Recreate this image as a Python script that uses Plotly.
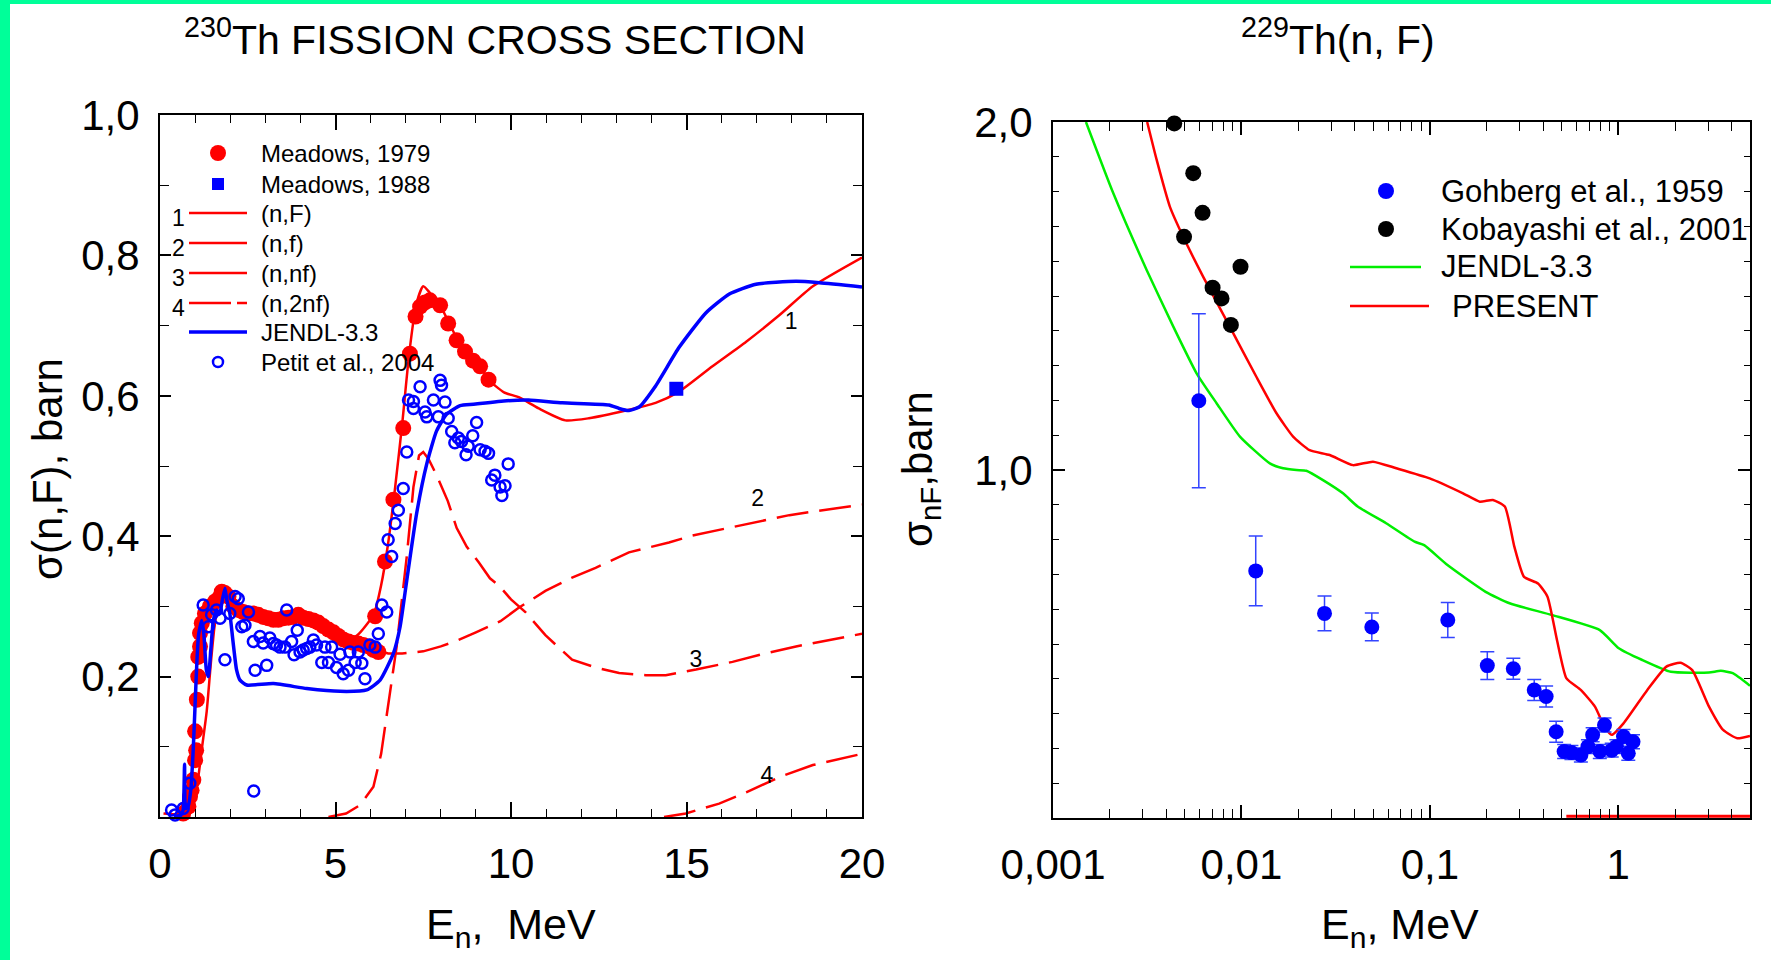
import plotly.graph_objects as go

W, H = 1771, 960
FONT = "Arial, Liberation Sans, Helvetica, sans-serif"


def px(x):
    return x / W


def py(y):
    return 1 - y / H


# ---------------- Left panel: 230Th fission cross section ----------------
meadows79_E = [0.66, 0.81, 0.855, 0.90, 0.95, 1.0, 1.03, 1.0, 1.05, 1.09, 1.09, 1.14, 1.14, 1.19,
               1.28, 1.42, 1.57, 1.71, 1.76, 1.85, 1.95, 2.09, 2.23, 2.37, 2.51, 2.66, 2.80, 2.94,
               3.09, 3.23, 3.37, 3.51, 3.66, 3.80, 3.94, 4.08, 4.23, 4.37, 4.51, 4.65, 4.80, 4.94,
               5.08, 5.22, 5.37, 5.51, 5.65, 5.79, 5.94, 6.08, 6.22, 6.13, 6.41, 6.65, 6.93, 7.12,
               7.28, 7.41, 7.55, 7.69, 7.98, 8.21, 8.45, 8.69, 8.92, 9.12, 9.36]
meadows79_s = [0.005, 0.015, 0.029, 0.038, 0.053, 0.081, 0.095, 0.122, 0.167, 0.200, 0.228, 0.243,
               0.262, 0.276, 0.290, 0.300, 0.307, 0.314, 0.321, 0.319, 0.314, 0.300, 0.295, 0.292,
               0.290, 0.290, 0.288, 0.285, 0.283, 0.281, 0.281, 0.283, 0.284, 0.285, 0.288, 0.284,
               0.282, 0.280, 0.277, 0.272, 0.267, 0.263, 0.258, 0.253, 0.250, 0.248, 0.247, 0.245,
               0.243, 0.238, 0.235, 0.286, 0.364, 0.452, 0.554, 0.660, 0.713, 0.727, 0.733, 0.736,
               0.729, 0.703, 0.679, 0.663, 0.650, 0.642, 0.623]

meadows88_E = [14.71]
meadows88_s = [0.610]

petit_E = [0.33, 0.43, 0.66, 0.85, 1.23, 1.38, 1.47, 1.61, 1.71, 1.85, 1.99, 2.14, 2.23, 2.33,
           2.42, 2.52, 2.66, 2.67, 2.71, 2.85, 2.94, 3.04, 3.13, 3.23, 3.32, 3.42, 3.56, 3.61,
           3.75, 3.82, 3.91, 3.99, 4.08, 4.18, 4.27, 4.37, 4.46, 4.61, 4.70, 4.80, 4.89, 5.03,
           5.13, 5.22, 5.37, 5.41, 5.56, 5.65, 5.75, 5.84, 5.98, 6.13, 6.22, 6.32, 6.46, 6.50,
           6.60, 6.70, 6.79, 6.93, 7.03, 7.08, 7.22, 7.22, 7.41, 7.55, 7.60, 7.79, 7.93, 7.98,
           8.02, 8.12, 8.21, 8.31, 8.40, 8.50, 8.59, 8.72, 8.78, 8.91, 9.02, 9.12, 9.26, 9.36,
           9.45, 9.54, 9.69, 9.74, 9.83, 9.92]
petit_s = [0.010, 0.003, 0.012, 0.048, 0.302, 0.271, 0.288, 0.295, 0.283, 0.224, 0.290, 0.314,
           0.311, 0.271, 0.273, 0.292, 0.250, 0.037, 0.209, 0.257, 0.248, 0.216, 0.255, 0.247,
           0.245, 0.242, 0.242, 0.295, 0.250, 0.231, 0.266, 0.235, 0.238, 0.240, 0.242, 0.252,
           0.245, 0.220, 0.242, 0.220, 0.242, 0.213, 0.232, 0.204, 0.209, 0.235, 0.220, 0.235,
           0.219, 0.197, 0.245, 0.242, 0.261, 0.302, 0.292, 0.395, 0.371, 0.418, 0.437, 0.468,
           0.520, 0.594, 0.592, 0.582, 0.613, 0.577, 0.570, 0.594, 0.570, 0.622, 0.615, 0.591,
           0.568, 0.549, 0.533, 0.540, 0.535, 0.516, 0.528, 0.543, 0.562, 0.523, 0.521, 0.518,
           0.480, 0.487, 0.470, 0.458, 0.472, 0.503]

nF_E = [0.1, 0.5, 0.8, 1.0, 1.1, 1.2, 1.33, 1.45, 1.55, 1.65, 1.8, 1.9, 2.1, 2.5, 3.0, 3.5, 4.0,
        4.5, 5.0, 5.3, 5.6, 5.9, 6.1, 6.3, 6.5, 6.7, 6.9, 7.1, 7.3, 7.5, 7.7, 8.0, 8.3, 8.6, 9.12,
        9.36, 9.8, 10.22, 10.79, 11.55, 12.22, 13.27, 14.12, 14.79, 15.74, 16.70, 17.65, 18.6, 20.0]
nF_s = [0.005, 0.004, 0.010, 0.030, 0.060, 0.100, 0.150, 0.220, 0.270, 0.300, 0.323, 0.318, 0.302,
        0.292, 0.285, 0.282, 0.282, 0.276, 0.262, 0.252, 0.258, 0.275, 0.290, 0.330, 0.390, 0.470,
        0.560, 0.660, 0.730, 0.756, 0.746, 0.727, 0.697, 0.670, 0.642, 0.623, 0.605, 0.598, 0.582,
        0.565, 0.568, 0.579, 0.590, 0.606, 0.642, 0.677, 0.715, 0.756, 0.797]

nf_E = [5.0, 5.5, 6.0, 6.5, 6.9, 7.5, 8.0, 8.5, 9.0, 9.7, 10.22, 10.98, 11.74, 12.41, 13.36, 14.5,
        15.17, 16.22, 17.27, 17.93, 18.6, 20.0]
nf_s = [0.262, 0.250, 0.240, 0.233, 0.233, 0.236, 0.243, 0.252, 0.263, 0.279, 0.298, 0.322, 0.341,
        0.355, 0.377, 0.391, 0.401, 0.412, 0.423, 0.430, 0.435, 0.445]

nnf_E = [4.8, 5.3, 5.7, 6.08, 6.3, 6.46, 6.74, 7.03, 7.22, 7.38, 7.5, 7.65, 7.88, 8.2, 8.45, 8.74,
         9.08, 9.4, 9.65, 10.0, 10.41, 10.98, 11.74, 12.41, 13.08, 13.84, 14.41, 15.27, 16.31,
         17.17, 18.12, 20.0]
nnf_s = [0.0, 0.005, 0.017, 0.043, 0.090, 0.148, 0.242, 0.371, 0.470, 0.515, 0.520, 0.510, 0.487,
         0.450, 0.412, 0.385, 0.363, 0.340, 0.330, 0.310, 0.292, 0.259, 0.224, 0.213, 0.205, 0.202,
         0.202, 0.210, 0.221, 0.232, 0.243, 0.261]

n2nf_E = [14.36, 14.98, 15.93, 16.70, 17.65, 18.6, 20.0]
n2nf_s = [0.0, 0.005, 0.019, 0.035, 0.057, 0.074, 0.090]

jendl230_E = [0.4, 0.6, 0.66, 0.70, 0.73, 0.8, 0.88, 0.95, 1.0, 1.05, 1.1, 1.19, 1.25, 1.32, 1.38,
              1.45, 1.52, 1.61, 1.7, 1.78, 1.85, 1.9, 1.99, 2.08, 2.18, 2.28, 2.47, 3.23, 4.18,
              5.13, 5.89, 6.27, 6.65, 6.84, 7.03, 7.31, 7.60, 7.88, 8.17, 8.55, 8.93, 9.88, 10.5,
              11.46, 12.79, 13.08, 13.36, 13.65, 14.12, 14.79, 15.55, 16.22, 16.98, 18.12, 18.79,
              20.0]
jendl230_s = [0.0, 0.003, 0.010, 0.075, 0.012, 0.015, 0.040, 0.100, 0.160, 0.220, 0.260, 0.280,
              0.260, 0.210, 0.200, 0.240, 0.280, 0.295, 0.290, 0.310, 0.326, 0.310, 0.290, 0.250,
              0.210, 0.195, 0.188, 0.190, 0.183, 0.179, 0.181, 0.195, 0.233, 0.271, 0.337, 0.432,
              0.503, 0.550, 0.574, 0.586, 0.588, 0.593, 0.594, 0.590, 0.587, 0.582, 0.579, 0.584,
              0.614, 0.669, 0.718, 0.745, 0.759, 0.763, 0.761, 0.755]

curve_labels = ["1", "2", "3", "4"]
curve_label_E = [17.98, 17.03, 15.27, 17.29]
curve_label_s = [0.703, 0.451, 0.222, 0.056]

left_xticks = [0, 5, 10, 15, 20]
left_xticktext = ["0", "5", "10", "15", "20"]
left_yticks = [0.2, 0.4, 0.6, 0.8, 1.0]
left_yticktext = ["0,2", "0,4", "0,6", "0,8", "1,0"]

# ---------------- Right panel: 229Th(n,F) ----------------
gohberg_E = [0.00594, 0.01191, 0.0276, 0.0492, 0.1245, 0.2018, 0.2773, 0.358, 0.414, 0.468,
             0.516, 0.564, 0.633, 0.690, 0.731, 0.798, 0.845, 0.923, 0.977, 1.066, 1.13, 1.197]
gohberg_s = [1.199, 0.710, 0.588, 0.549, 0.569, 0.438, 0.429, 0.368, 0.349, 0.248,
             0.191, 0.188, 0.181, 0.205, 0.239, 0.191, 0.267, 0.195, 0.205, 0.234, 0.186, 0.219]
gohberg_err = [0.25, 0.10, 0.05, 0.04, 0.05, 0.04, 0.03, 0.03, 0.03, 0.03,
               0.02, 0.02, 0.02, 0.02, 0.02, 0.02, 0.02, 0.02, 0.02, 0.02, 0.02, 0.02]

kobayashi_E = [0.00440, 0.00555, 0.00622, 0.00496, 0.00989, 0.00703, 0.00784, 0.00879]
kobayashi_s = [1.996, 1.853, 1.739, 1.670, 1.584, 1.524, 1.493, 1.417]

jendl229_E = [0.001496, 0.00209, 0.00314, 0.00435, 0.00578, 0.00738, 0.00982, 0.01415, 0.01665,
              0.0196, 0.0221, 0.0271, 0.0346, 0.0414, 0.0586, 0.083, 0.0933, 0.124, 0.1977,
              0.265, 0.447, 0.798, 1.006, 1.34, 1.90, 3.03, 3.50, 4.05, 5.0]
jendl229_s = [2.0, 1.795, 1.575, 1.412, 1.278, 1.192, 1.096, 1.019, 1.005, 1.0, 0.998, 0.971,
              0.933, 0.895, 0.847, 0.794, 0.784, 0.727, 0.650, 0.617, 0.583, 0.540, 0.488, 0.454,
              0.420, 0.418, 0.423, 0.416, 0.380]

present_E = [0.00316, 0.00355, 0.00417, 0.00491, 0.00627, 0.00867, 0.0120, 0.01535, 0.0188,
             0.0230, 0.0294, 0.0391, 0.0499, 0.0664, 0.0998, 0.150, 0.184, 0.216, 0.250, 0.281,
             0.316, 0.375, 0.421, 0.473, 0.531, 0.632, 0.752, 0.845, 0.923, 1.066, 1.426, 1.80,
             2.14, 2.47, 3.03, 3.60, 4.28, 5.0]
present_s = [2.0, 1.891, 1.757, 1.670, 1.555, 1.412, 1.268, 1.163, 1.096, 1.057, 1.043, 1.014,
             1.024, 1.005, 0.976, 0.933, 0.909, 0.914, 0.895, 0.779, 0.693, 0.674, 0.636, 0.511,
             0.401, 0.368, 0.320, 0.262, 0.239, 0.272, 0.368, 0.435, 0.446, 0.425, 0.320, 0.253,
             0.229, 0.236]
present_base_E = [0.53, 5.0]
present_base_s = [0.005, 0.005]

right_xticks = [0.001, 0.01, 0.1, 1]
right_xticktext = ["0,001", "0,01", "0,1", "1"]
right_xminor = [m * 10 ** d for d in (-3, -2, -1, 0) for m in range(2, 10) if m * 10 ** d <= 5]
right_yticks = [1.0, 2.0]
right_yticktext = ["1,0", "2,0"]

RED = "#ff0000"
BLUE = "#0000ff"
GREEN = "#00ee00"

fig = go.Figure()

# left traces
fig.add_trace(go.Scatter(x=nf_E, y=nf_s, mode="lines", name="(n,f)",
                         line=dict(color=RED, width=2.5, dash="32px,11px"), xaxis="x", yaxis="y"))
fig.add_trace(go.Scatter(x=nnf_E, y=nnf_s, mode="lines", name="(n,nf)",
                         line=dict(color=RED, width=2.5, dash="32px,11px"), xaxis="x", yaxis="y"))
fig.add_trace(go.Scatter(x=n2nf_E, y=n2nf_s, mode="lines", name="(n,2nf)",
                         line=dict(color=RED, width=2.5, dash="32px,11px"), xaxis="x", yaxis="y"))
fig.add_trace(go.Scatter(x=meadows79_E, y=meadows79_s, mode="markers", name="Meadows, 1979",
                         marker=dict(color=RED, size=16), cliponaxis=False, xaxis="x", yaxis="y"))
fig.add_trace(go.Scatter(x=nF_E, y=nF_s, mode="lines", name="(n,F)",
                         line=dict(color=RED, width=2.5, shape="spline", smoothing=0.6),
                         xaxis="x", yaxis="y"))
fig.add_trace(go.Scatter(x=jendl230_E, y=jendl230_s, mode="lines", name="JENDL-3.3",
                         line=dict(color=BLUE, width=3.5, shape="spline", smoothing=0.5),
                         xaxis="x", yaxis="y"))
fig.add_trace(go.Scatter(x=petit_E, y=petit_s, mode="markers", name="Petit et al., 2004",
                         marker=dict(color=BLUE, size=11, symbol="circle-open", line=dict(width=2.5)),
                         cliponaxis=False, xaxis="x", yaxis="y"))
fig.add_trace(go.Scatter(x=meadows88_E, y=meadows88_s, mode="markers", name="Meadows, 1988",
                         marker=dict(color=BLUE, size=14, symbol="square"), xaxis="x", yaxis="y"))
fig.add_trace(go.Scatter(x=curve_label_E, y=curve_label_s, mode="text", text=curve_labels,
                         textfont=dict(family=FONT, size=23, color="black"), xaxis="x", yaxis="y"))

# right traces
fig.add_trace(go.Scatter(x=jendl229_E, y=jendl229_s, mode="lines", name="JENDL-3.3",
                         line=dict(color=GREEN, width=2.5, shape="spline", smoothing=0.5),
                         xaxis="x2", yaxis="y2"))
fig.add_trace(go.Scatter(x=present_E, y=present_s, mode="lines", name="PRESENT",
                         line=dict(color=RED, width=2.5, shape="spline", smoothing=0.5),
                         xaxis="x2", yaxis="y2"))
fig.add_trace(go.Scatter(x=present_base_E, y=present_base_s, mode="lines", name="PRESENT",
                         line=dict(color=RED, width=3), cliponaxis=False, xaxis="x2", yaxis="y2"))
fig.add_trace(go.Scatter(x=gohberg_E, y=gohberg_s, mode="markers", name="Gohberg et al., 1959",
                         marker=dict(color=BLUE, size=15),
                         error_y=dict(type="data", array=gohberg_err, visible=True,
                                      color="#3344ff", thickness=1.5, width=7),
                         xaxis="x2", yaxis="y2"))
fig.add_trace(go.Scatter(x=kobayashi_E, y=kobayashi_s, mode="markers", name="Kobayashi et al., 2001",
                         marker=dict(color="black", size=16), cliponaxis=False,
                         xaxis="x2", yaxis="y2"))

axis_common = dict(showline=True, linecolor="black", linewidth=2, mirror="ticks", ticks="inside",
                   tickcolor="black", tickwidth=1.5, showgrid=False, zeroline=False,
                   automargin=False,
                   tickfont=dict(family=FONT, size=42, color="black"))

fig.update_layout(
    width=W, height=H, margin=dict(l=0, r=0, t=0, b=0, pad=0, autoexpand=False),
    autosize=False,
    paper_bgcolor="white", plot_bgcolor="white", showlegend=False,
    xaxis=dict(domain=[px(160), px(862)], range=[0, 20], tickmode="array", tickvals=left_xticks,
               ticktext=left_xticktext, ticklen=15, ticklabelstandoff=9, anchor="y",
               minor=dict(dtick=1, ticks="inside", ticklen=8, tickcolor="black", tickwidth=1.2),
               **axis_common),
    yaxis=dict(domain=[py(817), py(115)], range=[0, 1.0], tickmode="array", tickvals=left_yticks,
               ticktext=left_yticktext, ticklen=11, ticklabelstandoff=10, anchor="x",
               minor=dict(dtick=0.1, ticks="inside", ticklen=9, tickcolor="black", tickwidth=1.2),
               **axis_common),
    xaxis2=dict(domain=[px(1053), px(1750)], type="log", range=[-3, 0.699], tickmode="array",
                tickvals=right_xticks, ticktext=right_xticktext, ticklen=13, ticklabelstandoff=9,
                anchor="y2",
                minor=dict(tickmode="array", tickvals=right_xminor, ticks="inside", ticklen=9,
                           tickcolor="black", tickwidth=1.2),
                **axis_common),
    yaxis2=dict(domain=[py(818), py(122)], range=[0, 2.0], tickmode="array", tickvals=right_yticks,
                ticktext=right_yticktext, ticklen=12, ticklabelstandoff=10, anchor="x2",
                minor=dict(dtick=0.1, ticks="inside", ticklen=6, tickcolor="black", tickwidth=1.2),
                **axis_common),
)

ann = []
shapes = []


def text(x, y, s, size, xanchor="center", yanchor="middle", angle=0):
    ann.append(dict(x=px(x), y=py(y), xref="paper", yref="paper", text=s, showarrow=False,
                    xanchor=xanchor, yanchor=yanchor, textangle=angle,
                    font=dict(family=FONT, size=size, color="black")))


# titles
text(495, 37, "<sup>230</sup>Th FISSION CROSS SECTION", 41)
text(1338, 37, "<sup>229</sup>Th(n, F)", 41)
# axis titles
text(47, 469, "σ(n,F), barn", 42, angle=-90)
text(920, 469, "σ<sub>nF</sub>,barn", 42, angle=-90)
text(511, 927, "E<sub>n</sub>,&nbsp; MeV", 43)
text(1400, 927, "E<sub>n</sub>, MeV", 43)

# left legend
LROWS = [153, 184, 213, 243, 273, 303, 332, 362]
LLAB = ["Meadows, 1979", "Meadows, 1988", "(n,F)", "(n,f)", "(n,nf)", "(n,2nf)", "JENDL-3.3",
        "Petit et al., 2004"]
for yy, lab in zip(LROWS, LLAB):
    text(259, yy, lab, 24, xanchor="left")
for i, n in enumerate(["1", "2", "3", "4"]):
    text(178, LROWS[2 + i] + 5, n, 23)
mx = 218
r = 8
shapes.append(dict(type="circle", xref="paper", yref="paper", x0=px(mx - r), x1=px(mx + r),
                   y0=py(LROWS[0] + r), y1=py(LROWS[0] - r), fillcolor=RED, line=dict(width=0)))
shapes.append(dict(type="rect", xref="paper", yref="paper", x0=px(mx - 6), x1=px(mx + 6),
                   y0=py(LROWS[1] + 6), y1=py(LROWS[1] - 6), fillcolor=BLUE, line=dict(width=0)))
for i in range(3):
    yy = LROWS[2 + i]
    shapes.append(dict(type="line", xref="paper", yref="paper", x0=px(189), x1=px(247),
                       y0=py(yy), y1=py(yy), line=dict(color=RED, width=2.5)))
shapes.append(dict(type="line", xref="paper", yref="paper", x0=px(189), x1=px(247),
                   y0=py(LROWS[5]), y1=py(LROWS[5]),
                   line=dict(color=RED, width=2.5, dash="42px,6px,10px,6px")))
shapes.append(dict(type="line", xref="paper", yref="paper", x0=px(189), x1=px(247),
                   y0=py(LROWS[6]), y1=py(LROWS[6]), line=dict(color=BLUE, width=3.5)))
shapes.append(dict(type="circle", xref="paper", yref="paper", x0=px(mx - 5), x1=px(mx + 5),
                   y0=py(LROWS[7] + 5), y1=py(LROWS[7] - 5), fillcolor="rgba(0,0,0,0)",
                   line=dict(color=BLUE, width=2.5)))

# right legend
RROWS = [191, 229, 267, 306]
text(1439, RROWS[0], "Gohberg et al., 1959", 31, xanchor="left")
text(1439, RROWS[1], "Kobayashi et al., 2001", 31, xanchor="left")
text(1439, RROWS[2], "JENDL-3.3", 31, xanchor="left")
text(1450, RROWS[3], "PRESENT", 31, xanchor="left")
rx = 1386
shapes.append(dict(type="circle", xref="paper", yref="paper", x0=px(rx - 8), x1=px(rx + 8),
                   y0=py(RROWS[0] + 8), y1=py(RROWS[0] - 8), fillcolor=BLUE, line=dict(width=0)))
shapes.append(dict(type="circle", xref="paper", yref="paper", x0=px(rx - 8), x1=px(rx + 8),
                   y0=py(RROWS[1] + 8), y1=py(RROWS[1] - 8), fillcolor="black", line=dict(width=0)))
shapes.append(dict(type="line", xref="paper", yref="paper", x0=px(1350), x1=px(1421),
                   y0=py(RROWS[2]), y1=py(RROWS[2]), line=dict(color=GREEN, width=2.5)))
shapes.append(dict(type="line", xref="paper", yref="paper", x0=px(1350), x1=px(1429),
                   y0=py(RROWS[3]), y1=py(RROWS[3]), line=dict(color=RED, width=2.5)))

# green frame of the picture
shapes.append(dict(type="rect", xref="paper", yref="paper", x0=0, x1=px(10), y0=0, y1=1,
                   fillcolor="#00ff99", line=dict(width=0)))
shapes.append(dict(type="rect", xref="paper", yref="paper", x0=0, x1=1, y0=py(4), y1=1,
                   fillcolor="#00ff99", line=dict(width=0)))

fig.update_layout(annotations=ann, shapes=shapes)
fig.write_html("out.html")
